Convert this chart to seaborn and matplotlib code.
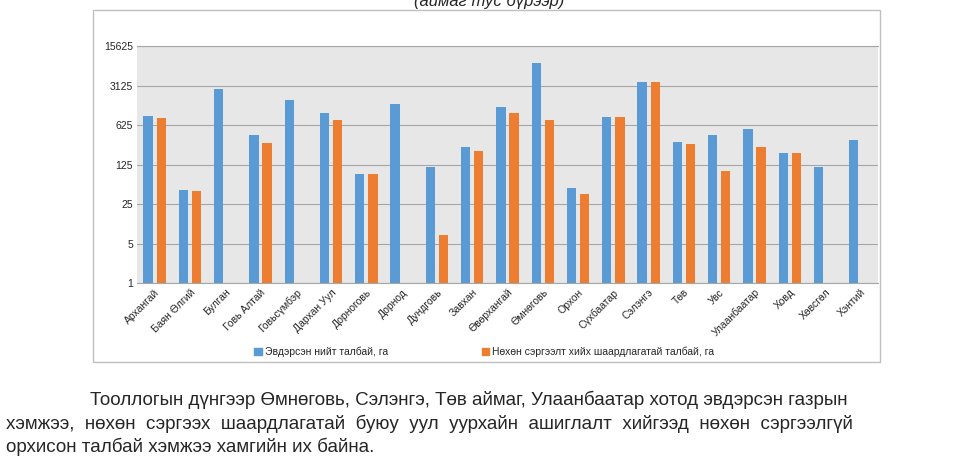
import pandas as pd
import numpy as np
import matplotlib
matplotlib.use("Agg")
import matplotlib.pyplot as plt
import seaborn as sns
from matplotlib.patches import Rectangle, Patch

aimags = ["Архангай", "Баян Өлгий", "Булган", "Говь Алтай", "Говьсүмбэр", "Дархан Уул",
          "Дорноговь", "Дорнод", "Дундговь", "Завхан", "Өвөрхангай", "Өмнөговь", "Орхон",
          "Сүхбаатар", "Сэлэнгэ", "Төв", "Увс", "Улаанбаатар", "Ховд", "Хөвсгөл", "Хэнтий"]
damaged = [905, 44, 2750, 411, 1727, 1012, 86, 1466, 115, 250, 1290, 7820, 48,
           877, 3610, 308, 418, 532, 200, 115, 339]
restore = [838, 42, np.nan, 297, np.nan, 770, 86, np.nan, 7, 216, 1010, 770, 38,
           877, 3610, 289, 94, 258, 200, np.nan, np.nan]
s1 = "Эвдэрсэн нийт талбай, га"
s2 = "Нөхөн сэргээлт хийх шаардлагатай талбай, га"
yticks = [1, 5, 25, 125, 625, 3125, 15625]

df = pd.DataFrame({"aimag": aimags * 2,
                   "value": damaged + restore,
                   "series": [s1] * len(aimags) + [s2] * len(aimags)})

sns.set_style("white")
plt.rcParams['font.family'] = ['Liberation Sans', 'DejaVu Sans']

fig = plt.figure(figsize=(9.78, 4.67), dpi=100)
fig.patches.append(Rectangle((93 / 978, 1 - 362 / 467), (880 - 93) / 978, (362 - 10) / 467,
                             transform=fig.transFigure, fill=False, edgecolor="#bfbfbf", lw=1))
ax = fig.add_axes([137 / 978, 1 - 283 / 467, (878 - 137) / 978, (283 - 46) / 467])
ax.set_yscale("log", base=5)
sns.barplot(data=df, x="aimag", y="value", hue="series", palette=["#5b9bd5", "#ed7d31"],
            saturation=1, width=0.75, gap=0.3, ax=ax, legend=False, edgecolor="none")
ax.set_ylim(1, 15625)
ax.set_yticks(yticks)
ax.set_yticklabels([str(t) for t in yticks], fontsize=7.5)
ax.yaxis.set_minor_locator(matplotlib.ticker.NullLocator())
ax.set_facecolor("#e7e7e7")
ax.grid(axis="y", color="#a6a6a6", lw=0.8)
ax.set_axisbelow(True)
for s in ["left", "right"]:
    ax.spines[s].set_visible(False)
ax.spines["top"].set_color("#a6a6a6")
ax.spines["bottom"].set_color("#a6a6a6")
ax.set_xlabel("")
ax.set_ylabel("")
ax.tick_params(axis="both", length=0, pad=3)
ax.set_xticks(range(len(aimags)))
ax.set_xticklabels(aimags, rotation=45, ha="right", rotation_mode="anchor", fontsize=7.5)

handles = [Patch(color="#5b9bd5", label=s1), Patch(color="#ed7d31", label=s2)]
fig.legend(handles=handles, loc="center", bbox_to_anchor=(0.495, 1 - 352 / 467), ncol=2,
           frameon=False, fontsize=7.5, handlelength=0.7, handleheight=0.7,
           handletextpad=0.3, columnspacing=9)

fig.text(0.5, 0.997, "(аймаг тус бүрээр)", ha="center", va="center", fontsize=12, style="italic")
para = ["Тооллогын дүнгээр Өмнөговь, Сэлэнгэ, Төв аймаг, Улаанбаатар хотод эвдэрсэн газрын",
        "хэмжээ,  нөхөн  сэргээх  шаардлагатай  буюу  уул  уурхайн  ашиглалт  хийгээд  нөхөн  сэргээлгүй",
        "орхисон талбай хэмжээ хамгийн их байна."]
fig.text(90 / 978, 1 - 400 / 467, para[0], fontsize=13.5, va="center")
fig.text(6 / 978, 1 - 424 / 467, para[1], fontsize=13.5, va="center")
fig.text(6 / 978, 1 - 447 / 467, para[2], fontsize=13.5, va="center")

fig.savefig("out.png", dpi=100)
